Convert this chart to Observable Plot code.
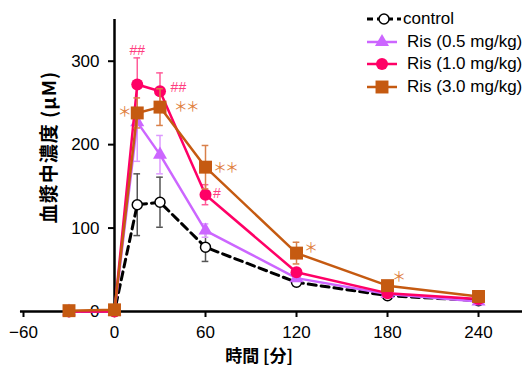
<!DOCTYPE html>
<html><head><meta charset="utf-8">
<script src="https://cdn.jsdelivr.net/npm/d3@7"></script>
<script src="https://cdn.jsdelivr.net/npm/@observablehq/plot@0.6"></script>
<style>
body{margin:0;background:#fff;}
#wrap{position:relative;width:525px;height:367px;overflow:hidden;font-family:"Liberation Sans",Arial,"Noto Sans CJK JP",sans-serif;}
#wrap svg{position:absolute;left:0;top:0;}
.lab{position:absolute;font-weight:bold;font-family:"Noto Sans CJK JP","Liberation Sans",sans-serif;white-space:nowrap;color:#000;line-height:22px;}
.leg{position:absolute;font-size:17px;font-family:"Liberation Sans",Arial,sans-serif;white-space:nowrap;color:#000;line-height:20px;}
</style></head><body><div id="wrap"></div>
<script>
// ---- data ----
const times = [-30, 0, 15, 30, 60, 120, 180, 240];
const seriesNames = ["control", "Ris (0.5 mg/kg)", "Ris (1.0 mg/kg)", "Ris (3.0 mg/kg)"];
const control    = [0, 0, 128, 131, 77, 35, 19, 13];
const controlErr = [0, 0, 37, 30, 17, 4, 2, 1];
const ris05      = [0, 0, 227, 188, 97, 40, 21, 12];
const ris05Err   = [0, 0, 47, 23, 8, 3, 2, 1];
const ris10      = [0, 0, 272, 264, 140, 47, 22, 15];
const ris10Err   = [0, 0, 32, 22, 12, 4, 2, 1];
const ris30      = [1, 2, 238, 245, 173, 70, 31, 18];
const ris30Err   = [0, 0, 18, 22, 26, 13, 3, 2];
const xTicks = [-60, 0, 60, 120, 180, 240];
const yTicks = [0, 100, 200, 300];
const xLabel = "時間 [分]";
const yLabel = "血漿中濃度 (μM)";
// significance marks
const annText   = ["##", "##", "＊", "＊＊", "＊＊", "#", "＊", "＊"];
const annSeries = [2, 2, 3, 3, 3, 2, 3, 3];
const annX      = [15, 37, 10, 39, 65, 65, 125, 183];
const annY      = [313, 269, 240, 246, 172, 142, 77, 42];
const annAnchor = ["middle", "start", "end", "start", "start", "start", "start", "start"];

// ---- styles ----
const values = [control, ris05, ris10, ris30];
const errors = [controlErr, ris05Err, ris10Err, ris30Err];
const colors = ["#000000", "#cc66ff", "#ff0066", "#c55a11"];
const errColors = ["#555555", "#dd99ff", "#ff5c99", "#d9804a"];
const annColors = ["#000", "#cc66ff", "#ff3d80", "#e07e3c"];
const symbols = ["circle", "triangle", "circle", "square"];
const radii = [5, 5.2, 6, 7.3];
const fills = ["#ffffff", "#cc66ff", "#ff0066", "#c55a11"];

const marks = [];
marks.push(Plot.ruleY([0], {x1: -62, x2: 269, stroke: "#000", strokeWidth: 2.5}));
marks.push(Plot.ruleX([0], {y1: 0, y2: 350, stroke: "#000", strokeWidth: 2.5}));
marks.push(Plot.axisY(yTicks, {tickSize: 6, tickPadding: 9, strokeWidth: 2, fontSize: 17, label: null}));
marks.push(Plot.axisX(xTicks, {tickSize: 6, tickPadding: 8, strokeWidth: 2, fontSize: 17, label: null}));

seriesNames.forEach((name, i) => {
  const rows = times.map((t, j) => ({t, v: values[i][j], e: errors[i][j]}));
  const er = rows.filter(d => d.e > 0);
  marks.push(Plot.ruleX(er, {x: "t", y1: d => d.v - d.e, y2: d => d.v + d.e, stroke: errColors[i], strokeWidth: 1.5}));
  marks.push(Plot.ruleY(er, {y: d => d.v + d.e, x1: d => d.t - 2.2, x2: d => d.t + 2.2, stroke: errColors[i], strokeWidth: 1.5}));
  marks.push(Plot.ruleY(er, {y: d => d.v - d.e, x1: d => d.t - 2.2, x2: d => d.t + 2.2, stroke: errColors[i], strokeWidth: 1.5}));
  marks.push(Plot.line(rows, {x: "t", y: "v", stroke: colors[i], strokeWidth: i === 0 ? 3 : 2.5,
    strokeDasharray: i === 0 ? "8,5" : null}));
  marks.push(Plot.dot(rows, {x: "t", y: "v", symbol: symbols[i], r: radii[i], fill: fills[i],
    stroke: colors[i], strokeWidth: i === 0 ? 1.5 : 0}));
});

const ann = annText.map((s, k) => ({s, x: annX[k], y: annY[k], c: annColors[annSeries[k]], a: annAnchor[k]}));
["middle", "start", "end"].forEach(a => {
  const hash = ann.filter(d => d.a === a && d.s.includes("#"));
  const star = ann.filter(d => d.a === a && !d.s.includes("#"));
  marks.push(Plot.text(hash, {x: "x", y: "y", text: "s", fill: d => d.c, textAnchor: a, fontSize: 14,
    fontFamily: "Liberation Sans, Arial, sans-serif", lineAnchor: "middle"}));
  marks.push(Plot.text(star, {x: "x", y: "y", text: "s", fill: d => d.c, textAnchor: a, fontSize: 14,
    fontFamily: "Noto Sans CJK JP, sans-serif", lineAnchor: "middle"}));
});

const chart = Plot.plot({
  width: 525, height: 367,
  marginLeft: 114, marginRight: 3, marginTop: 19, marginBottom: 56,
  x: {domain: [0, 269]},
  y: {domain: [0, 350]},
  style: {fontFamily: "Liberation Sans, Arial, sans-serif", fontSize: "17px", background: "transparent", overflow: "visible", color: "#000"},
  marks
});
const wrap = document.getElementById("wrap");
wrap.appendChild(chart);
d3.select(chart).selectAll("text").filter(function() { return this.textContent.includes("＊"); })
  .style("letter-spacing", "-2px");

// axis labels
const yl = document.createElement("div");
yl.className = "lab"; yl.textContent = yLabel;
yl.style.fontSize = "19px"; yl.style.letterSpacing = "1px";
yl.style.left = "48px"; yl.style.top = "147px";
yl.style.transform = "translate(-50%,-50%) rotate(-90deg)";
wrap.appendChild(yl);
const xl = document.createElement("div");
xl.className = "lab"; xl.textContent = xLabel;
xl.style.fontSize = "17px";
xl.style.left = "259px"; xl.style.top = "355px";
xl.style.transform = "translate(-50%,-50%)";
wrap.appendChild(xl);

// legend
const legY = [19, 42, 64, 87];
seriesNames.forEach((name, i) => {
  const svg = d3.select(wrap).append("svg").attr("width", 40).attr("height", 18)
    .style("left", "364px").style("top", (legY[i] - 9) + "px");
  svg.append("line").attr("x1", 3).attr("x2", i === 0 ? 37 : 33).attr("y1", 9).attr("y2", 9)
    .attr("stroke", colors[i]).attr("stroke-width", i === 0 ? 3 : 2.5)
    .attr("stroke-dasharray", i === 0 ? "6,4" : null);
  const sym = {circle: d3.symbolCircle, triangle: d3.symbolTriangle, square: d3.symbolSquare}[symbols[i]];
  svg.append("path").attr("d", d3.symbol(sym, Math.PI * radii[i] * radii[i])())
    .attr("transform", `translate(${i === 0 ? 20 : 18},9)`)
    .attr("fill", fills[i]).attr("stroke", colors[i]).attr("stroke-width", i === 0 ? 1.5 : 0);
  const t = document.createElement("div");
  t.className = "leg"; t.textContent = name;
  t.style.left = (i === 0 ? 403 : 407) + "px"; t.style.top = (legY[i] - 10) + "px";
  wrap.appendChild(t);
});
</script></body></html>
